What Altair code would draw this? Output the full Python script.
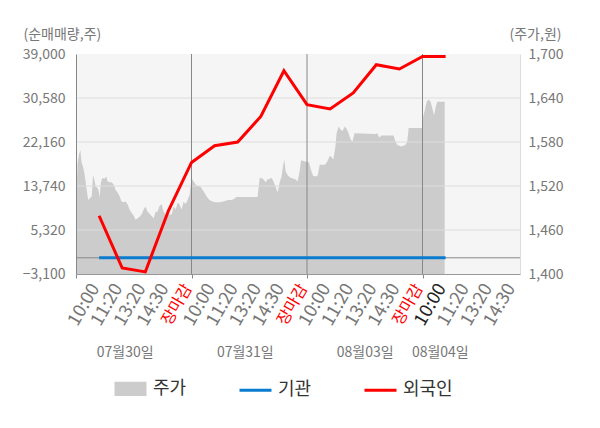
import altair as alt
import pandas as pd

FONT = "Noto Sans CJK KR"

# x positions are in label-slot units (each trading day = 5 slots)
price_slot = [0.00, 0.07, 0.13, 0.19, 0.24, 0.30, 0.36, 0.42, 0.48, 0.53,
              0.62, 0.68, 0.74, 0.79, 0.85, 0.91, 0.97, 1.02, 1.08, 1.14,
              1.23, 1.31, 1.37, 1.45, 1.54, 1.63, 1.71, 1.80, 1.89, 1.97,
              2.06, 2.15, 2.23, 2.32, 2.42, 2.49, 2.58, 2.67, 2.75, 2.84,
              2.93, 3.01, 3.10, 3.19, 3.27, 3.36, 3.45, 3.53, 3.62, 3.71,
              3.79, 3.88, 4.14, 4.23, 4.31, 4.40, 4.48, 4.57, 4.66, 4.74,
              4.83, 4.92,
              5.00, 5.09, 5.18, 5.26, 5.35, 5.44, 5.52, 5.67, 5.78, 5.90,
              6.02, 6.13, 6.25, 6.36, 6.48, 6.59, 6.71, 6.82, 6.94, 7.86,
              7.95, 8.03, 8.12, 8.21, 8.29, 8.47, 8.55, 8.64, 8.73, 8.81,
              8.90, 8.96, 9.02, 9.07, 9.16, 9.25, 9.33, 9.42, 9.51, 9.59,
              9.68, 9.74, 9.85, 9.97,
              10.09, 10.17, 10.26, 10.37, 10.46, 10.55, 10.78, 10.89, 10.98, 11.05,
              11.14, 11.23, 11.28, 11.37, 11.45, 11.54, 11.63, 11.71, 11.80, 11.89,
              11.97, 12.06, 12.96, 13.04, 13.13, 13.22, 13.75, 13.82, 13.91, 14.00,
              14.08, 14.17, 14.26, 14.34, 14.40, 14.98,
              15.03, 15.09, 15.18, 15.26, 15.35, 15.44, 15.50, 15.58, 15.64, 15.93,
              15.96]
price_val = [1490, 1551, 1563, 1569, 1552, 1547, 1538, 1525, 1511, 1501,
             1504, 1506, 1535, 1529, 1520, 1518, 1515, 1504, 1525, 1531,
             1530, 1533, 1526, 1525, 1525, 1522, 1515, 1511, 1506, 1499,
             1498, 1499, 1495, 1488, 1483, 1480, 1474, 1476, 1478, 1481,
             1488, 1492, 1485, 1482, 1479, 1476, 1485, 1485, 1493, 1495,
             1485, 1481, 1481, 1492, 1488, 1497, 1495, 1488, 1499, 1495,
             1501, 1508,
             1531, 1526, 1522, 1520, 1520, 1517, 1513, 1505, 1501, 1499,
             1498, 1498, 1498, 1499, 1500, 1501, 1501, 1502, 1505, 1505,
             1531, 1531, 1529, 1525, 1529, 1531, 1526, 1519, 1511, 1524,
             1533, 1547, 1556, 1540, 1535, 1532, 1531, 1530, 1529, 1526,
             1540, 1555, 1554, 1553,
             1552, 1542, 1534, 1533, 1534, 1549, 1549, 1554, 1561, 1560,
             1556, 1574, 1592, 1601, 1597, 1595, 1601, 1598, 1592, 1583,
             1581, 1592, 1591, 1592, 1586, 1589, 1589, 1581, 1576, 1575,
             1574, 1575, 1576, 1581, 1599, 1599,
             1615, 1622, 1635, 1638, 1635, 1624, 1616, 1629, 1635, 1635,
             1635]

flow_slot = [1, 2, 3, 4, 5, 6, 7, 8, 9, 10, 11, 12, 13, 14, 15, 16]
foreign = [8050, -1950, -2700, 9000, 18250, 21450, 22160, 27060, 35800,
           29300, 28470, 31540, 36950, 36130, 38540, 38540]
institution = [0, 0, 0, 0, 0, 0, 0, 0, 0, 0, 0, 0, 0, 0, 0, 0]

slot_labels = ["10:00", "11:20", "13:20", "14:30", "장마감"]
day_bounds = [5, 10, 15]
date_labels = ["07월30일", "07월31일", "08월03일", "08월04일"]
date_pos = [2.13, 7.33, 12.52, 15.77]
left_ticks = [-3100, 5320, 13740, 22160, 30580, 39000]
right_ticks = [1400, 1460, 1520, 1580, 1640, 1700]
series = ["주가", "기관", "외국인"]
colors = ["#cccccc", "#0a7ccf", "#ff0000"]

price_df = pd.DataFrame({"slot": price_slot, "price": price_val, "series": series[0]})
flow_df = pd.concat([
    pd.DataFrame({"slot": flow_slot, "value": institution, "series": series[1]}),
    pd.DataFrame({"slot": flow_slot, "value": foreign, "series": series[2]}),
])
grid_df = pd.DataFrame({"value": left_ticks[1:-1]})
zero_df = pd.DataFrame({"value": [0]})
bound_df = pd.DataFrame({"slot": day_bounds})
date_df = pd.DataFrame({"slot": date_pos, "label": date_labels})

lab_arr = "['" + "','".join([""] + slot_labels[:4]) + "']"
label_expr = (f"datum.value == 0 ? '' : (datum.value % 5 == 0 ? '{slot_labels[4]}' : "
              f"{lab_arr}[datum.value % 5])")

x_enc = alt.X(
    "slot:Q",
    scale=alt.Scale(domain=[0, 19.22], nice=False, zero=False),
    axis=alt.Axis(
        values=list(range(20)), labelExpr=label_expr, labelAngle=-60,
        labelFontSize=alt.ExprRef("datum.value % 5 == 0 ? 16 : 18"),
        labelFont=FONT, labelOverlap=False, labelBound=False,
        labelFlush=False, labelPadding=7, labelOffset=-4,
        labelAlign="right", labelBaseline="middle",
        labelColor=alt.ExprRef("datum.value % 5 == 0 ? '#ff0000' : (datum.value == 16 ? '#222222' : '#777777')"),
        tickOpacity=alt.ExprRef("datum.value % 5 == 0 ? 1 : 0"),
        tickColor="#888888", tickSize=4, domainColor="#999999",
        grid=False, title=None, zindex=1,
    ),
)

y_left = alt.Y(
    "value:Q",
    scale=alt.Scale(domain=[left_ticks[0], left_ticks[-1]], nice=False, zero=False),
    axis=alt.Axis(
        orient="left", values=left_ticks, format=",.0f", grid=False, ticks=False,
        domainColor="#888888", labelColor="#777777", labelFontSize=14, labelFont=FONT,
        labelPadding=11, title="(순매매량,주)", titleAngle=0, titleX=-53, titleY=-20,
        titleAlign="left", titleBaseline="middle", titleColor="#777777",
        titleFontSize=14, titleFontWeight="normal", titleFont=FONT, zindex=1,
    ),
)

rect_path = "M-1,-0.35H1M-1,-0.25H1M-1,-0.15H1M-1,-0.05H1M-1,0.05H1M-1,0.15H1M-1,0.25H1M-1,0.35H1"
color_enc = alt.Color(
    "series:N",
    scale=alt.Scale(domain=series, range=colors),
    legend=alt.Legend(
        orient="none", legendX=37, legendY=317, direction="horizontal", title=None,
        symbolType=alt.ExprRef(f"datum.value == '{series[0]}' ? '{rect_path}' : 'stroke'"),
        symbolSize=1024, symbolStrokeWidth=3,
        labelFont=FONT, labelFontSize=18, labelColor="#333333", labelOffset=5,
        columnPadding=46, padding=0,
    ),
)

area = alt.Chart(price_df).mark_area(interpolate="linear").encode(
    x=x_enc,
    y=alt.Y(
        "price:Q",
        scale=alt.Scale(domain=[right_ticks[0], right_ticks[-1]], nice=False, zero=False),
        axis=alt.Axis(
            orient="right", values=right_ticks, format=",.0f", grid=False, ticks=False,
            domainColor="#dddddd", labelColor="#777777", labelFontSize=14, labelFont=FONT,
            labelPadding=8, title="(주가,원)", titleAngle=0, titleX=-11, titleY=-20,
            titleAlign="left", titleBaseline="middle", titleColor="#777777",
            titleFontSize=14, titleFontWeight="normal", titleFont=FONT,
        ),
    ),
    y2=alt.datum(right_ticks[0]),
    color=color_enc,
)

grid = alt.Chart(grid_df).mark_rule(color="#dddddd", strokeWidth=1).encode(y=y_left)
bounds = alt.Chart(bound_df).mark_rule(color="#888888", strokeWidth=1).encode(x=x_enc)
zero = alt.Chart(zero_df).mark_rule(color="#888888", strokeWidth=1).encode(y=y_left)
lines = alt.Chart(flow_df).mark_line(strokeWidth=3).encode(x=x_enc, y=y_left, color=color_enc)
dates = alt.Chart(date_df).mark_text(
    font=FONT, fontSize=14, color="#777777", align="center", baseline="middle"
).encode(x=x_enc, y=alt.value(299), text="label:N")

inner = alt.layer(grid, bounds, zero, lines, dates)

chart = alt.layer(area, inner).resolve_scale(y="independent").properties(
    width=444, height=220,
    autosize=alt.AutoSizeParams(type="none"),
    padding={"left": 68, "top": 46, "right": 70, "bottom": 140},
).configure(font=FONT).configure_view(fill="#f5f5f5", stroke=None)

chart.save("out.html", embed_options={"renderer": "svg", "actions": False})
